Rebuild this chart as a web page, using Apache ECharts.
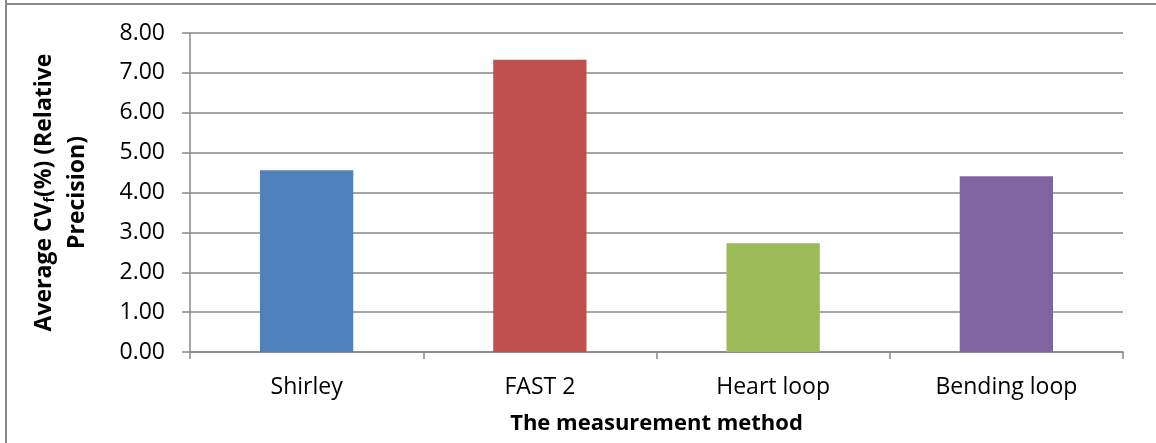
<!DOCTYPE html>
<html>
<head>
<meta charset="utf-8">
<script src="https://cdn.jsdelivr.net/npm/echarts@6/dist/echarts.min.js"></script>
<style>
  html, body { margin: 0; padding: 0; background: #fff; }
  #main { width: 1156px; height: 443px; }
</style>
</head>
<body>
<div id="main"></div>
<script>
const methods = ['Shirley', 'FAST 2', 'Heart loop', 'Bending loop'];
const cvValues = [4.56, 7.33, 2.73, 4.41];
const barColors = ['#4f81bd', '#c0504d', '#9bbb59', '#8064a2'];
const yTicks = { min: 0, max: 8, interval: 1 };

const font = '"Open Sans", "Noto Sans", sans-serif';
let chart = echarts.init(document.getElementById('main'));

let option = {
    animation: false,
    textStyle: { fontFamily: font },
    graphic: [
        { type: 'line', shape: { x1: 6, y1: 0, x2: 6, y2: 443 }, style: { stroke: '#888', lineWidth: 2 } },
        { type: 'line', shape: { x1: 6, y1: 4, x2: 1156, y2: 4 }, style: { stroke: '#888', lineWidth: 2 } }
    ],
    grid: { left: 190, right: 33, top: 33, bottom: 91 },
    xAxis: {
        type: 'category',
        data: methods,
        name: 'The measurement method',
        nameLocation: 'middle',
        nameGap: 61,
        nameTextStyle: { fontFamily: font, fontSize: 22, fontWeight: 'bold', color: '#000' },
        axisLine: { lineStyle: { color: '#888', width: 1.5 } },
        axisTick: { show: true, length: 7, lineStyle: { color: '#888', width: 1.5 } },
        axisLabel: { fontFamily: font, fontSize: 23, color: '#000', margin: 24 }
    },
    yAxis: {
        type: 'value',
        min: yTicks.min,
        max: yTicks.max,
        interval: yTicks.interval,
        name: '{b|Average CV}{s|f}{b|(%) (Relative}\n{b|Precision)}',
        nameLocation: 'middle',
        nameGap: 96,
        nameTextStyle: {
            rich: {
                b: { fontFamily: font, fontSize: 23, fontWeight: 'bold', color: '#000', lineHeight: 33 },
                s: { fontFamily: font, fontSize: 14, fontWeight: 'bold', color: '#000', padding: [11, 0, 0, 0] }
            }
        },
        axisLine: { show: true, lineStyle: { color: '#888', width: 1.5 } },
        axisTick: { show: true, length: 8, lineStyle: { color: '#888', width: 1.5 } },
        axisLabel: {
            fontFamily: font, fontSize: 23, color: '#000', margin: 25,
            formatter: v => v.toFixed(2)
        },
        splitLine: { lineStyle: { color: '#888', width: 1.5 } }
    },
    series: [{
        type: 'bar',
        data: cvValues.map((v, i) => ({ value: v, itemStyle: { color: barColors[i] } })),
        barCategoryGap: '60%'
    }]
};
chart.setOption(option);
</script>
</body>
</html>
